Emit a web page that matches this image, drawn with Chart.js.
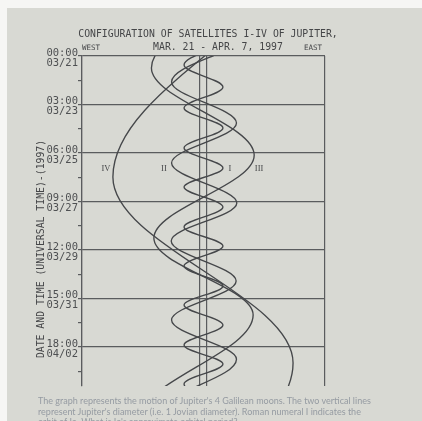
<!DOCTYPE html>
<html>
<head>
<meta charset="utf-8">
<script src="https://cdn.jsdelivr.net/npm/chart.js@4.4.1/dist/chart.umd.min.js"></script>
<style>
  html, body { margin: 0; padding: 0; width: 422px; height: 421px; overflow: hidden; background: #f6f6f4; }
  #screen { position: absolute; left: 7px; top: 8px; width: 415px; height: 413px; background: #d8d9d3; }
  #c { position: absolute; left: 0; top: 0; }
  #note { position: absolute; left: 38px; top: 396px; width: 338px; font-family: Lato, "Open Sans", sans-serif;
          font-size: 9px; line-height: 10.5px; color: #959ba2; }
</style>
</head>
<body>
<div id="screen"></div>
<canvas id="c" width="422" height="421"></canvas>
<div id="note">The graph represents the motion of Jupiter's 4 Galilean moons. The two vertical lines represent Jupiter's diameter (i.e. 1 Jovian diameter). Roman numeral I indicates the orbit of Io. What is Io's approximate orbital period?</div>
<script>
// ---- data (hours after 1997-03-21 00:00 UT, elongation in Jupiter radii; west = negative) ----
const moonNames = ['I', 'II', 'III', 'IV'];

const ioHours  = [-12.6, 9.5, 32.6, 54.7, 75.7, 96.7, 117.8, 137.7, 158.8, 179.8, 199.8, 220.8, 241.8, 261.8, 282.9, 303.9, 323.9, 344.9, 365.9];
const ioElong  = [5.6, -5.6, 5.6, -5.6, 5.6, -5.6, 5.6, -5.6, 5.6, -5.6, 5.6, -5.6, 5.6, -5.6, 5.6, -5.6, 5.6, -5.6, 5.6];

const europaHours = [-11.6, 27.3, 70.5, 112.5, 154.6, 194.5, 236.6, 277.6, 318.8, 360.7];
const europaElong = [9.5, -9.2, 9.5, -9.2, 9.6, -9.3, 9.4, -9.2, 9.5, -9.3];

const ganymedeHours = [-74.7, 12.6, 104.1, 191.4, 272.3, 356.5];
const ganymedeElong = [14.5, -15.0, 14.6, -14.3, 14.3, -14.5];

const callistoHours = [-83.0, 127.2, 322.8, 518.0];
const callistoElong = [26.0, -26.1, 25.8, -26.0];

const tickTimes = ['00:00', '03:00', '06:00', '09:00', '12:00', '15:00', '18:00'];
const tickDates = ['03/21', '03/23', '03/25', '03/27', '03/29', '03/31', '04/02'];
const tickStepHours = 25.5;

const jupiterRadius = 1;
const elongLimit = 35;
const hoursMax = 347;

const labelHour = 118.8;
const labelElong = { 'I': 7.6, 'II': -11.4, 'III': 16.0, 'IV': -28.1 };

// ---- build ----
const series = [
  [ioHours, ioElong], [europaHours, europaElong], [ganymedeHours, ganymedeElong], [callistoHours, callistoElong]
];
const ink = '#45474a';
const gridInk = '#5a5c5e';

const datasets = series.map((s, k) => ({
  label: moonNames[k],
  data: s[0].map((h, i) => ({ x: s[1][i], y: h })),
  showLine: true,
  borderColor: ink,
  borderWidth: 1.35,
  pointRadius: 0,
  tension: 0.36,
  fill: false
}));

const textPlugin = {
  id: 'texts',
  afterDraw(chart) {
    const c = chart.ctx;
    const xs = chart.scales.x, ys = chart.scales.y;
    c.save();
    c.fillStyle = '#454648';
    c.textBaseline = 'middle';
    c.textAlign = 'center';
    c.font = '9.8px "DejaVu Sans Mono"';
    c.fillText('CONFIGURATION OF SATELLITES I-IV OF JUPITER,', 208, 34);
    c.fillText('MAR. 21 - APR. 7, 1997', 218, 47);
    c.font = '7.5px "DejaVu Sans Mono"';
    c.fillText('WEST', 91, 48);
    c.fillText('EAST', 313, 48);
    // y axis title
    c.save();
    c.translate(41, 249);
    c.rotate(-Math.PI / 2);
    c.font = '9.8px "DejaVu Sans Mono"';
    c.fillText('DATE AND TIME (UNIVERSAL TIME)-(1997)', 0, 0);
    c.restore();
    // moon labels
    c.font = '8.5px "Liberation Serif"';
    moonNames.forEach(n => {
      c.fillText(n, xs.getPixelForValue(labelElong[n]), ys.getPixelForValue(labelHour));
    });
    c.restore();
  }
};

new Chart(document.getElementById('c'), {
  type: 'scatter',
  data: { datasets },
  plugins: [textPlugin],
  options: {
    responsive: false,
    animation: false,
    layout: { padding: { top: 56, right: 97, bottom: 35, left: 0 } },
    elements: { line: { capBezierPoints: false } },
    plugins: { legend: { display: false }, tooltip: { enabled: false } },
    scales: {
      x: {
        type: 'linear',
        min: -elongLimit, max: elongLimit,
        afterBuildTicks: s => { s.ticks = [-elongLimit, -jupiterRadius, jupiterRadius, elongLimit].map(v => ({ value: v })); },
        afterFit: s => { s.height = 0; },
        ticks: { display: false },
        border: { display: false },
        grid: { color: gridInk, lineWidth: 1.2, drawTicks: false }
      },
      y: {
        type: 'linear',
        reverse: true,
        min: 0, max: hoursMax,
        afterBuildTicks: s => {
          const t = [];
          for (let i = 0; i * tickStepHours <= hoursMax; i++) t.push({ value: i * tickStepHours });
          s.ticks = t;
        },
        afterFit: s => { s.width = 82; },
        border: { display: true, color: gridInk, width: 1.2 },
        grid: {
          color: ctx => (ctx.index % 2 === 0 ? gridInk : 'rgba(0,0,0,0)'),
          tickColor: gridInk,
          lineWidth: 1.2,
          tickLength: 4
        },
        ticks: {
          autoSkip: false,
          padding: 0,
          labelOffset: 2,
          color: '#4e5052',
          font: { family: '"DejaVu Sans Mono"', size: 10.5, lineHeight: 0.95 },
          callback: (v, i) => (i % 2 === 0 && tickTimes[i / 2] ? [tickTimes[i / 2], tickDates[i / 2]] : '')
        }
      }
    }
  }
});
</script>
</body>
</html>
